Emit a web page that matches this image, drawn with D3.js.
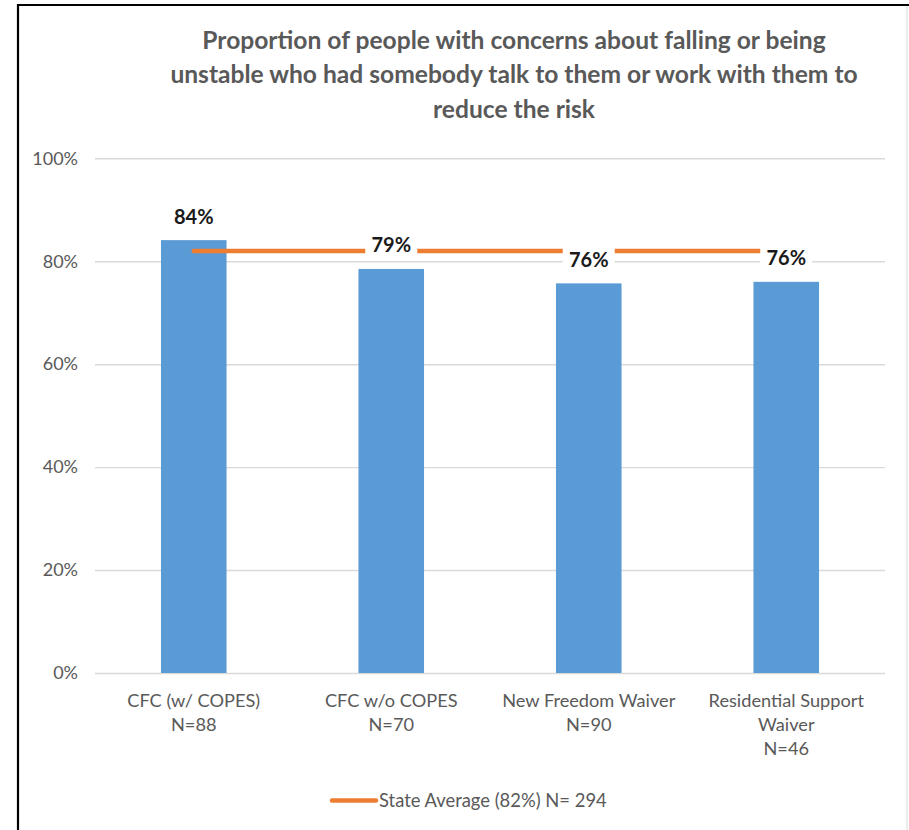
<!DOCTYPE html>
<html>
<head>
<meta charset="utf-8">
<script src="https://cdn.jsdelivr.net/npm/d3@7"></script>
<style>
  html, body { margin: 0; padding: 0; background: #fff; }
  svg { display: block; }
</style>
</head>
<body>
<svg id="chart" width="909" height="830"></svg>
<script>
// ---- data ----
const titleLines = [
  "Proportion of people with concerns about falling or being",
  "unstable who had somebody talk to them or work with them to",
  "reduce the risk"
];
const categories = ["CFC (w/ COPES)", "CFC w/o COPES", "New Freedom Waiver", "Residential Support Waiver"];
const categoryLabelLines = [
  ["CFC (w/ COPES)", "N=88"],
  ["CFC w/o COPES", "N=70"],
  ["New Freedom Waiver", "N=90"],
  ["Residential Support", "Waiver", "N=46"]
];
const values = [84.1, 78.5, 75.7, 76.0];
const valueLabels = ["84%", "79%", "76%", "76%"];
const stateAverage = [82, 82, 82, 82];
const yTicks = [0, 20, 40, 60, 80, 100];
const legendLabel = "State Average (82%) N= 294";

// ---- layout ----
const svg = d3.select("#chart");
const W = 909, H = 830;
const plot = { left: 95, right: 885, top: 158.3, bottom: 673 };
const fontFamily = "Lato, 'Open Sans', sans-serif";
const gray = "#595959";

// frame
svg.append("line").attr("x1", 18).attr("x2", 18).attr("y1", 4).attr("y2", H)
  .attr("stroke", "#000").attr("stroke-width", 2.2);
svg.append("line").attr("x1", 17).attr("x2", W).attr("y1", 5).attr("y2", 5)
  .attr("stroke", "#000").attr("stroke-width", 2.2);
svg.append("line").attr("x1", 907).attr("x2", 907).attr("y1", 6).attr("y2", H)
  .attr("stroke", "#d9d9d9").attr("stroke-width", 1);

const x = d3.scaleBand().domain(categories).range([plot.left, plot.right])
  .paddingInner(0.668).paddingOuter(0.334);
const y = d3.scaleLinear().domain([0, 100]).range([plot.bottom, plot.top]);

// title
svg.append("g").selectAll("text").data(titleLines).join("text")
  .attr("x", 514).attr("y", (d, i) => 48.5 + i * 34.5)
  .attr("text-anchor", "middle")
  .attr("font-family", fontFamily).attr("font-weight", "bold")
  .attr("font-size", 24.6).attr("fill", gray)
  .text(d => d);

// y axis gridlines + labels
const yAxis = d3.axisLeft(y).tickValues(yTicks)
  .tickSize(-(plot.right - plot.left)).tickPadding(17)
  .tickFormat(d => d + "%");
const gy = svg.append("g").attr("transform", `translate(${plot.left},0)`).call(yAxis);
gy.select(".domain").remove();
gy.selectAll(".tick line").attr("stroke", "#d9d9d9").attr("stroke-width", 1.4);
gy.selectAll(".tick text").attr("font-family", fontFamily).attr("font-size", 18)
  .attr("fill", gray).attr("font-weight", 400);

// bars
svg.append("g").selectAll("rect").data(values).join("rect")
  .attr("x", (d, i) => x(categories[i]))
  .attr("width", x.bandwidth())
  .attr("y", d => y(d))
  .attr("height", d => y(0) - y(d))
  .attr("fill", "#5b9bd5");

// state average line
const line = d3.line()
  .x((d, i) => x(categories[i]) + x.bandwidth() / 2)
  .y(d => y(d));
svg.append("path").datum(stateAverage)
  .attr("d", line)
  .attr("fill", "none").attr("stroke", "#ed7d31")
  .attr("stroke-width", 4.5).attr("stroke-linecap", "round");

// value labels with white boxes
const lbl = svg.append("g").selectAll("g").data(values).join("g")
  .attr("transform", (d, i) => `translate(${x(categories[i]) + x.bandwidth() / 2},${y(d) - 23.5})`);
lbl.filter((d, i) => i > 0).append("rect")
  .attr("x", -26).attr("y", -13).attr("width", 52).attr("height", 26)
  .attr("fill", "#fff");
lbl.append("text")
  .attr("text-anchor", "middle").attr("dy", "0.35em")
  .attr("font-family", fontFamily).attr("font-weight", "bold")
  .attr("font-size", 20).attr("fill", "#1a1a1a")
  .text((d, i) => valueLabels[i]);

// category labels
const cat = svg.append("g").selectAll("text").data(categories).join("text")
  .attr("text-anchor", "middle")
  .attr("font-family", fontFamily).attr("font-size", 18.2)
  .attr("font-weight", 400).attr("fill", gray);
cat.each(function(d, i) {
  const t = d3.select(this);
  categoryLabelLines[i].forEach((ln, j) => {
    t.append("tspan").attr("x", x(d) + x.bandwidth() / 2)
      .attr("y", 706.5 + j * 24).text(ln);
  });
});

// legend
svg.append("line").attr("x1", 332).attr("x2", 376).attr("y1", 800.5).attr("y2", 800.5)
  .attr("stroke", "#ed7d31").attr("stroke-width", 4.5).attr("stroke-linecap", "round");
svg.append("text").attr("x", 379).attr("y", 806.8)
  .attr("font-family", fontFamily).attr("font-size", 18.4)
  .attr("font-weight", 400).attr("fill", gray)
  .text(legendLabel);
</script>
</body>
</html>
